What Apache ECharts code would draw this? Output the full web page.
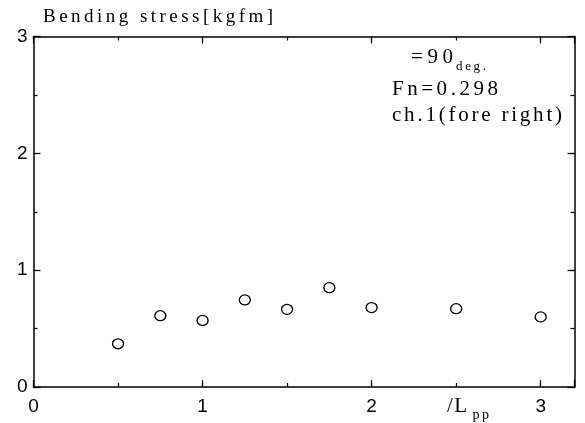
<!DOCTYPE html>
<html>
<head>
<meta charset="utf-8">
<script src="https://cdn.jsdelivr.net/npm/echarts@6/dist/echarts.min.js"></script>
<style>
  html, body { margin: 0; padding: 0; background: #fff; }
  #chart { width: 585px; height: 423px; }
</style>
</head>
<body>
<div id="chart"></div>
<script>
// Measured positions along the hull (x / Lpp) and bending stress values
const positions = [0.5, 0.75, 1.0, 1.25, 1.5, 1.75, 2.0, 2.5, 3.0];
const stress = [0.37, 0.61, 0.57, 0.745, 0.665, 0.85, 0.68, 0.67, 0.6];

const xTickLabels = [0, 1, 2, 3];
const yTickLabels = [0, 1, 2, 3];

const titleText = 'Bending stress[kgfm]';
const headingMain = '=90';
const headingSub = 'deg.';
const froudeText = 'Fn=0.298';
const channelText = 'ch.1(fore right)';
const xNameMain = '/L';
const xNameSub = 'pp';

const SERIF_NAME = 'Liberation Serif';
const SERIF = '"Liberation Serif", "Times New Roman", serif';
const INK = '#000';

const measureCtx = document.createElement('canvas').getContext('2d');

// Lay out a string glyph by glyph with extra tracking between letters.
// opts.width spreads the run across a given width; opts.spacing sets
// the gap directly.
function tracked(str, x, baseline, size, opts) {
  measureCtx.font = size + 'px ' + SERIF;
  const chars = Array.from(str);
  const natural = chars.reduce((s, ch) => s + measureCtx.measureText(ch).width, 0);
  let spacing = opts.spacing || 0;
  if (opts.width != null && chars.length > 1) {
    spacing = (opts.width - natural) / (chars.length - 1);
  }
  const els = [];
  let cx = x;
  const mid = baseline - 0.34 * size;
  for (const ch of chars) {
    if (ch !== ' ') {
      els.push({
        type: 'text',
        x: cx,
        y: mid,
        silent: true,
        style: {
          text: ch,
          fontSize: size,
          fontFamily: SERIF_NAME,
          fill: INK,
          align: 'left',
          verticalAlign: 'middle'
        }
      });
    }
    cx += measureCtx.measureText(ch).width + spacing;
  }
  return els;
}

const chart = echarts.init(document.getElementById('chart'), null, { renderer: 'canvas' });

const axisLineStyle = { color: INK, width: 1.5 };
const tickStyle = { color: INK, width: 1.2 };

function xAxisDef(position, interval, tickLen, withLine, withLabels) {
  return {
    type: 'value',
    position: position,
    min: 0,
    max: 3.2,
    interval: interval,
    axisLine: { show: withLine, onZero: false, lineStyle: axisLineStyle },
    axisTick: { show: true, inside: true, length: tickLen, lineStyle: tickStyle },
    axisLabel: withLabels ? {
      show: true,
      margin: 10,
      fontFamily: 'Liberation Sans',
      fontSize: 19,
      color: INK,
      formatter: v => (xTickLabels.indexOf(v) >= 0 ? String(v) : '')
    } : { show: false },
    splitLine: { show: false }
  };
}

function yAxisDef(position, interval, tickLen, withLine, withLabels) {
  return {
    type: 'value',
    position: position,
    min: 0,
    max: 3,
    interval: interval,
    axisLine: { show: withLine, onZero: false, lineStyle: axisLineStyle },
    axisTick: { show: true, inside: true, length: tickLen, lineStyle: tickStyle },
    axisLabel: withLabels ? {
      show: true,
      margin: 6,
      fontFamily: 'Liberation Sans',
      fontSize: 19,
      color: INK,
      formatter: v => (yTickLabels.indexOf(v) >= 0 ? String(v) : '')
    } : { show: false },
    splitLine: { show: false }
  };
}

// Text blocks: start x, baseline, font size, tracking
const graphicEls = [].concat(
  tracked(titleText, 43, 23.5, 19, { width: 230 }),
  tracked(headingMain, 411, 65, 21, { width: 42 }),
  tracked(headingSub, 456, 71, 13, { width: 30 }),
  tracked(froudeText, 392, 97, 21, { width: 106 }),
  tracked(channelText, 392, 123, 21, { width: 170 }),
  tracked(xNameMain, 447, 413.5, 21, { spacing: 1.5 }),
  tracked(xNameSub, 472.5, 420.5, 14, { spacing: 2.5 })
);

chart.setOption({
  animation: false,
  backgroundColor: '#fff',
  grid: { left: 33.5, right: 10.5, top: 36.5, bottom: 36, containLabel: false },
  xAxis: [
    xAxisDef('bottom', 1, 7, true, true),
    xAxisDef('bottom', 0.5, 4, false, false),
    xAxisDef('top', 1, 7, true, false),
    xAxisDef('top', 0.5, 4, false, false)
  ],
  yAxis: [
    yAxisDef('left', 1, 7, true, true),
    yAxisDef('left', 0.5, 4, false, false),
    yAxisDef('right', 1, 7, true, false),
    yAxisDef('right', 0.5, 4, false, false)
  ],
  series: [{
    type: 'scatter',
    xAxisIndex: 0,
    yAxisIndex: 0,
    symbol: 'circle',
    symbolSize: [11, 10],
    itemStyle: { color: '#fff', borderColor: '#000', borderWidth: 1.3, opacity: 1 },
    data: positions.map((p, i) => [p, stress[i]])
  }],
  graphic: graphicEls
});
</script>
</body>
</html>
